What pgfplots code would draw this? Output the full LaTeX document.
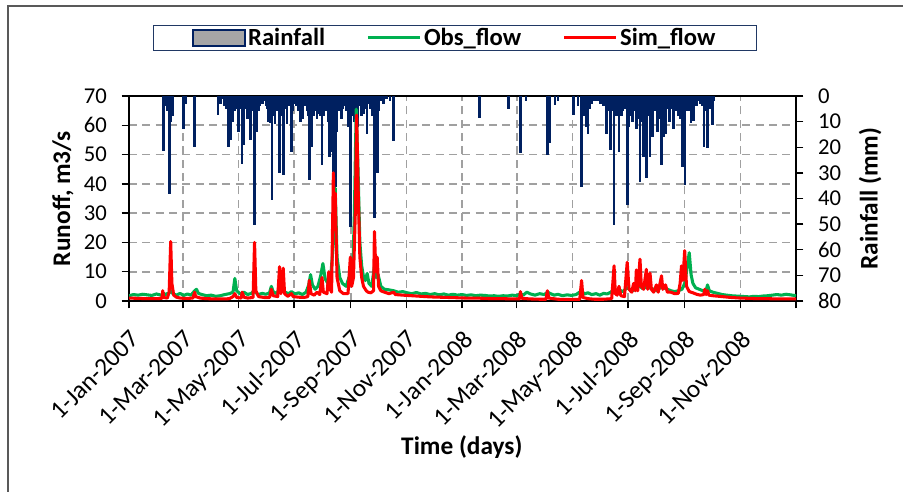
\documentclass[border=0pt]{standalone}
\usepackage{pgfplots}
\pgfplotsset{compat=1.18}
\usepackage{pgfplotstable}
\usepackage{fontspec}
\setmainfont{Carlito}

\definecolor{rainblue}{HTML}{002060}
\definecolor{obsgreen}{HTML}{00B050}
\definecolor{simred}{HTML}{FF0000}
\definecolor{gridgray}{HTML}{A0A0A0}
\definecolor{patchgray}{HTML}{A6A6A6}
\definecolor{framegray}{HTML}{595959}
\definecolor{legendframe}{HTML}{203864}

% Daily rainfall (mm), day 0 = 1-Jan-2007
\pgfplotstableread{
day rain
37.7 21.5
40 4
42 6
44.7 38.4
46 10
47.5 8
59.6 12.9
62 3
72 19.8
97.7 7.4
105 4
107 5
109 20
111 17
114 10
117 5
120 14
123.7 26.5
126 19
128 5
130 9
133 17
135 6
137.6 50.3
140 14
142 6
145 3
153 10
155 10.5
156.6 40.6
158 8
160 11
163 6
165 30
167 8
169 31
171 5
173 11
178 22
180 3
186 6
188 10
190 9
193 4
196 8
197.6 32.8
200.5 19.8
202 8
204 6
206 9
208 7
211.5 27
213 8
216 5
218 10
220 24
222 22
224 29.5
226 35.4
228 14
230 6
233 9
236 4
238 6
240 12
242.6 51
245 8
247 10
249 6
251 12
253 4
255 8
257 7
259 3
261 15
264 5
267 8
269 47.5
272.5 30
274 6
279 3
290 17.4
384 8.5
416 5.2
429 22.4
435 2
459 23
461 18.4
467 3.5
470 2
487 7.4
492 4
496 35.4
499 8
501 12
503 15
505 5
517 3
520 4
523.5 15
526 6
528 21
531.6 50.3
534 8
537 21.7
540 8
543 5
546 42.5
548 12
550 8
552 10
554 6
556 13
558 9
560 33.4
562 10
564 23.7
567 32
569 8
571 24
574 16
576 6
579 14
581 9
583.6 27
586 16
588 15
590 5
592 10
594 4
597 13
600 6
602 8
604 9
606.6 27.6
609.5 34.7
612 6
615.8 10.7
619 9.7
622 4
630 19.8
634 20.3
636 5
639.5 11.3
}\raintable

% Light rain days of the two wet seasons (mm)
\pgfplotstableread{
day rain
98 2
100 3
102 1
104 4
106 2
108 5
110 3
112 2
113 4
115 3
116 6
118 3
119 2
121 5
122 3
125 4
127 2
129 5
131 3
132 6
134 2
136 4
138 3
139 5
141 2
143 4
146 3
148 2
150 4
151 2
152 5
154 3
157 4
159 2
161 6
162 3
164 4
166 2
168 4
170 5
172 3
174 4
176 2
177 4
179 6
181 3
183 4
185 2
187 5
189 3
191 4
192 2
194 4
195 6
198 4
199 7
201 3
203 6
205 4
207 6
209 3
210 8
212 5
214 3
215 6
217 4
219 7
221 5
223 8
225 9
227 5
229 4
231 6
232 3
234 5
235 3
237 4
239 3
241 6
243 3
244 5
246 4
248 6
250 3
252 4
254 3
256 2
258 4
260 5
262 3
263 2
265 4
266 2
268 3
270 4
271 2
273 4
276 2
282 1
286 2
500 2
502 4
504 2
507 3
509 2
512 2
515 2
518 3
520 4
522 2
524 4
525 3
527 5
529 3
530 6
533 4
535 3
536 5
538 3
539 2
541 6
542 3
544 4
545 3
547 6
549 4
551 3
553 5
555 3
557 4
559 6
561 3
563 5
565 6
566 4
568 6
570 3
572 5
573 7
575 4
577 6
578 3
580 5
582 6
585 4
587 6
589 3
591 5
593 4
595 3
596 5
598 3
599 6
601 4
603 6
605 3
607 5
608 3
610 4
611 2
613 3
614 6
617 3
618 2
620 4
621 2
623 2
626 3
628 4
629 2
631 5
632 3
633 6
635 3
637 4
638 2
640 3
641 2
}\rainlight

% Observed runoff (m3/s)
\pgfplotstableread{
day q
0 1.8
5 2.2
10 2.0
15 2.3
20 2.1
25 1.9
30 2.4
35 2.0
38 2.6
40 2.2
44 2.8
46 3.5
48 2.5
52 2.0
56 2.6
60 1.9
64 2.4
68 2.0
72 3.5
74 4.0
76 2.6
80 2.2
85 1.8
90 2.0
95 1.6
100 1.8
105 2.2
110 2.5
114 3.0
116 7.7
118 3.5
122 2.4
126 3.0
130 2.2
134 2.6
137 3.5
139 2.8
142 2.2
146 2.6
150 2.3
154 2.8
156 5.0
158 3.2
162 2.5
165 4.5
167 3.2
169 4.5
171 3.0
175 2.5
178 3.2
182 2.4
186 2.8
190 2.2
194 3.0
197 5.5
199 9.0
201 5.5
204 4.0
207 5.0
210 8.5
212.5 12.8
215 7.5
218 6.0
221 8.0
224 20
226 38.5
228 15
231 8
234 6
238 5
241 8
243 9
245 7
247 30
249 65.5
251 45
253 20
255 12
257 8.3
259 7
261 9.4
263 6
266 5
269 12
271 8
273 9
276 5
280 4
285 3.8
290 3.5
295 3.0
300 3.2
305 2.8
310 2.5
315 2.9
320 2.4
325 2.6
330 2.2
335 2.5
340 2.1
345 2.4
350 2.0
355 2.3
360 2.0
365 2.2
370 1.9
375 2.1
380 1.8
385 2.0
390 1.9
395 1.7
400 1.8
405 1.6
410 1.8
415 1.7
420 2.0
425 1.8
429 2.5
432 2.0
436 3.0
440 2.4
445 2.0
450 2.5
455 2.2
459 3.0
462 2.5
466 2.0
470 2.3
475 1.8
480 2.1
485 1.9
490 2.2
496 3.5
499 2.4
503 2.8
507 2.2
512 2.5
516 2.0
520 2.6
524 2.4
528 3.0
531 4.0
533 3.5
537 3.8
541 3.2
546 4.5
549 4.0
553 3.6
556 4.5
560 5.0
563 4.2
567 4.8
571 4.5
575 4.0
579 3.5
583 4.8
586 4.5
590 4.0
594 3.5
598 3.2
602 3.5
606 4.0
609 6.0
612 12
614 16.5
616 9
618 6
621 4.5
625 4.0
629 3.5
632 3.0
634 5.5
636 3.5
640 3.0
645 2.6
650 2.2
655 2.0
660 1.8
665 1.7
670 1.6
675 1.5
680 1.4
685 1.6
690 1.5
695 1.7
700 1.8
705 2.0
710 2.2
715 2.0
720 2.3
725 2.1
731 1.8
}\obstable

% Simulated runoff (m3/s)
\pgfplotstableread{
day q
0 1.0
10 0.9
20 0.8
30 0.8
36 0.9
37 3.5
38 1.2
42 1.0
44 3
45.7 20.3
47 6
49 2.0
52 1.3
56 1.0
60 0.9
65 0.9
70 1.0
72 3.0
73 1.5
78 1.0
85 0.8
95 0.7
105 0.7
110 0.8
114 1.5
116 2.5
118 1.2
123 1.0
124 3.0
126 1.3
130 1.0
136 1.2
137.6 20
139 3.5
142 1.5
148 1.2
154 1.2
156 4
158 1.8
163 1.5
165 11.7
166.5 2.5
169 11.2
170.5 2.5
174 1.6
178 2.5
180 1.5
186 1.3
192 1.2
196 1.5
197.6 7
199.5 2.5
203 2.0
206 3.0
209 2.2
211.5 8
213 3
217 2.5
219 10
220.5 4
222 3
224 43.8
225 25
226 36.8
228 8
231 3.5
235 2.5
240 2.5
242.6 15
244 5
246 8
248 30
249.5 63.5
251 40
253 15
255 8
257 5
260 3.5
262 3
265 2.8
268 3.5
269 23.7
270.5 10
272 15
273.5 5
276 3.5
280 3
285 2.5
290 3.0
292 2.2
300 2.0
310 1.8
320 1.6
330 1.4
340 1.3
350 1.2
360 1.1
370 1.0
380 1.0
390 0.9
400 0.8
410 0.8
420 0.7
428 0.7
429 3.2
430.5 0.9
440 0.7
450 0.6
457 0.6
458.5 3.5
460 1.0
470 0.6
480 0.5
490 0.5
494 0.6
496 7
497.5 1.2
503 0.8
510 0.6
520 0.6
529 0.8
531.6 12
533 2.5
535 2.0
537 5
539 1.8
543 1.5
546 13.2
548 4
551 3
553 6
555 3.5
556 10.6
557.5 3.5
560 14.3
561.5 5
564 4
567 10.8
568.5 4
571 9.5
572.5 4
575 3
578 5.5
580 3
583.6 8.6
585 4
588 5.5
590 3
594 3
598 2.5
602 2.6
604 6
605.5 12
607 7
609 17.2
611 5
614 3.2
618 2.8
622 2.3
626 2.0
630 2.2
631 4.0
632.5 2.2
634 3.5
635.5 2.0
640 1.8
650 1.5
660 1.2
670 1.0
680 0.9
690 0.8
700 0.8
710 0.7
720 0.7
731 0.7
}\simtable

\pgfplotsset{
  common/.style={
    scale only axis,
    width=500.25pt, height=153.75pt,
    at={(96.75pt,143.25pt)}, anchor=south west,
    xmin=0, xmax=731,
    tick align=outside,
    major tick length=5.5pt,
    tick style={black, line width=1pt},
    axis line style={black, line width=1.5pt},
    ticklabel style={font=\fontsize{17}{20}\selectfont},
    /pgf/number format/assume math mode=true,
    label style={font=\bfseries\fontsize{19}{22}\selectfont},
  },
}

\begin{document}
\begin{tikzpicture}
\useasboundingbox (0,0) rectangle (677.25pt,369pt);
% outer chart frame
\draw[framegray, line width=1pt] (6pt,0pt) -- (6pt,364.5pt) -- (677.25pt,364.5pt);

% runoff frame: grid, ticks, labels and legend
\begin{axis}[common,
  ymin=0, ymax=70, ytick={0,10,...,70},
  ytick pos=left, xtick pos=bottom,
  yticklabel style={xshift=-7.5pt},
  xtick={0,59,120,181,243,304,365,425,486,547,609,670,731},
  xticklabels={1-Jan-2007,1-Mar-2007,1-May-2007,1-Jul-2007,1-Sep-2007,1-Nov-2007,1-Jan-2008,1-Mar-2008,1-May-2008,1-Jul-2008,1-Sep-2008,1-Nov-2008,},
  xticklabel style={rotate=45, anchor=north east, inner sep=1pt,
    font=\fontsize{19}{22}\selectfont},
  xticklabel shift=14pt,
  grid=major,
  major grid style={gridgray, line width=1.2pt, dash pattern=on 6pt off 4pt},
  xlabel={Time (days)},
  xlabel style={at={(axis description cs:0.499,-0.712)}, anchor=center},
  ylabel={Runoff, m3/s},
  ylabel style={at={(axis description cs:-0.099,0.5)}, anchor=center},
  legend columns=3,
  legend style={at={(axis description cs:0.036,1.346)}, anchor=north west,
    draw=legendframe, line width=0.75pt, inner xsep=29pt, inner ysep=0pt,
    nodes={inner sep=2pt},
    font=\bfseries\fontsize{18.5}{21}\selectfont,
    /tikz/every even column/.append style={column sep=29pt}},
]
\addlegendimage{legend image code/.code={\draw[fill=patchgray, draw=rainblue, line width=1pt] (0pt,-6pt) rectangle (39pt,6pt);}}
\addlegendentry{Rainfall}
\addlegendimage{legend image code/.code={\draw[obsgreen, line width=2.2pt] (0pt,0pt) -- (39pt,0pt);}}
\addlegendentry{Obs\_flow}
\addlegendimage{legend image code/.code={\draw[simred, line width=2.2pt] (0pt,0pt) -- (39pt,0pt);}}
\addlegendentry{Sim\_flow}
\end{axis}

% rainfall on reversed right axis
\begin{axis}[common,
  axis y line*=right, hide x axis,
  ymin=0, ymax=80, y dir=reverse,
  ytick={0,10,...,80},
  yticklabel style={xshift=7.5pt},
  ylabel={Rainfall (mm)},
  ylabel style={at={(axis description cs:1.111,0.5)}, rotate=0, anchor=center},
]
\addplot[ycomb, draw=rainblue, line width=2pt] table[x=day, y=rain] {\rainlight};
\addplot[ycomb, draw=rainblue, line width=2pt] table[x=day, y=rain] {\raintable};
\end{axis}

% observed and simulated runoff
\begin{axis}[common, hide axis, ymin=0, ymax=70]
\addplot[obsgreen, line width=2.3pt, line join=round] table[x=day, y=q] {\obstable};
\addplot[simred, line width=2.3pt, line join=round] table[x=day, y=q] {\simtable};
\end{axis}
\end{tikzpicture}
\end{document}
